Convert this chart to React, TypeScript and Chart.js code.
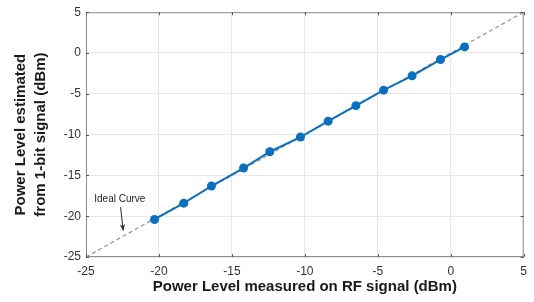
import React, { useEffect, useRef } from "react";
import { Chart, registerables } from "chart.js";
Chart.register(...registerables);

const measuredX = [-20.3, -18.3, -16.4, -14.2, -12.4, -10.3, -8.4, -6.5, -4.6, -2.65, -0.7, 0.95];
const measuredY = [-20.4, -18.4, -16.3, -14.1, -12.1, -10.3, -8.35, -6.45, -4.55, -2.8, -0.8, 0.75];
const idealX = [-25, 5];
const idealY = [-25, 5];
const tickMin = -25;
const tickMax = 5;
const tickStep = 5;
const annotationText = "Ideal Curve";
const annotationPos = { x: -22.68, y: -17.95 };
const arrowFrom = { x: -22.63, y: -18.9 };
const arrowTo = { x: -22.45, y: -21.75 };

const framePlugin = {
  id: "frame",
  afterDatasetsDraw(chart: any) {
    const { ctx, chartArea: a, scales } = chart;
    ctx.save();
    ctx.strokeStyle = "#8c8c8c";
    ctx.lineWidth = 1;
    ctx.strokeRect(a.left + 0.5, a.top + 0.5, a.right - a.left - 1, a.bottom - a.top - 1);
    // inward ticks
    ctx.strokeStyle = "#555";
    for (let v = tickMin; v <= tickMax; v += tickStep) {
      const px = Math.round(scales.x.getPixelForValue(v)) + 0.5;
      ctx.beginPath();
      ctx.moveTo(px, a.bottom); ctx.lineTo(px, a.bottom - 3);
      ctx.moveTo(px, a.top); ctx.lineTo(px, a.top + 3);
      ctx.stroke();
      const py = Math.round(scales.y.getPixelForValue(v)) + 0.5;
      ctx.beginPath();
      ctx.moveTo(a.left, py); ctx.lineTo(a.left + 3, py);
      ctx.moveTo(a.right, py); ctx.lineTo(a.right - 3, py);
      ctx.stroke();
    }
    // annotation
    const tx = scales.x.getPixelForValue(annotationPos.x);
    const ty = scales.y.getPixelForValue(annotationPos.y);
    ctx.fillStyle = "#262626";
    ctx.font = "10px 'Liberation Sans', Arial, sans-serif";
    ctx.textAlign = "center";
    ctx.textBaseline = "middle";
    ctx.fillText(annotationText, tx, ty);
    const x1 = scales.x.getPixelForValue(arrowFrom.x);
    const y1 = scales.y.getPixelForValue(arrowFrom.y);
    const x2 = scales.x.getPixelForValue(arrowTo.x);
    const y2 = scales.y.getPixelForValue(arrowTo.y);
    ctx.strokeStyle = "#262626";
    ctx.lineWidth = 1;
    ctx.beginPath();
    ctx.moveTo(x1, y1); ctx.lineTo(x2, y2);
    ctx.stroke();
    const ang = Math.atan2(y2 - y1, x2 - x1);
    const L = 7, W = 0.4;
    ctx.fillStyle = "#262626";
    ctx.beginPath();
    ctx.moveTo(x2, y2);
    ctx.lineTo(x2 - L * Math.cos(ang - W), y2 - L * Math.sin(ang - W));
    ctx.lineTo(x2 - L * 0.6 * Math.cos(ang), y2 - L * 0.6 * Math.sin(ang));
    ctx.lineTo(x2 - L * Math.cos(ang + W), y2 - L * Math.sin(ang + W));
    ctx.closePath();
    ctx.fill();
    ctx.restore();
  },
};

export default function App() {
  const ref = useRef<HTMLCanvasElement>(null);
  useEffect(() => {
    document.body.style.margin = "0";
    const chart = new Chart(ref.current!, {
      type: "scatter",
      data: {
        datasets: [
          {
            label: "Measured",
            data: measuredX.map((x, i) => ({ x, y: measuredY[i] })),
            showLine: true,
            borderColor: "#0b6fc0",
            backgroundColor: "#0b6fc0",
            borderWidth: 2,
            pointRadius: 4.5,
            pointBorderWidth: 0,
          },
          {
            label: "Ideal",
            data: idealX.map((x, i) => ({ x, y: idealY[i] })),
            showLine: true,
            borderColor: "#999999",
            borderWidth: 1.3,
            borderDash: [4, 3],
            pointRadius: 0,
          },
        ],
      },
      options: {
        animation: false,
        responsive: false,
        layout: { padding: { left: 0, top: 11, right: 8, bottom: 0 } },
        plugins: { legend: { display: false }, tooltip: { enabled: false } },
        scales: {
          x: {
            type: "linear",
            min: tickMin,
            max: tickMax,
            afterFit(scale: any) { scale.height = 45; },
            ticks: {
              stepSize: tickStep,
              padding: 7,
              color: "#333333",
              font: { family: "'Liberation Sans', Arial, sans-serif", size: 12 },
            },
            grid: { color: "#e8e8e8", drawTicks: false },
            border: { display: false },
            title: {
              display: true,
              text: "Power Level measured on RF signal (dBm)",
              color: "#1a1a1a",
              font: { family: "'Liberation Sans', Arial, sans-serif", size: 15, weight: "bold", lineHeight: 1.2 },
              padding: { top: 0, bottom: 6 },
            },
          },
          y: {
            type: "linear",
            min: tickMin,
            max: tickMax,
            afterFit(scale: any) { scale.width = 86; },
            ticks: {
              stepSize: tickStep,
              padding: 5,
              color: "#333333",
              font: { family: "'Liberation Sans', Arial, sans-serif", size: 12 },
            },
            grid: { color: "#e8e8e8", drawTicks: false },
            border: { display: false },
            title: {
              display: true,
              text: ["Power Level estimated", "from 1-bit signal (dBm)"],
              color: "#1a1a1a",
              font: { family: "'Liberation Sans', Arial, sans-serif", size: 15, weight: "bold", lineHeight: 1.333 },
              padding: { top: 11, bottom: 0 },
            },
          },
        },
      },
      plugins: [framePlugin],
    });
    return () => chart.destroy();
  }, []);
  return (
    <div style={{ position: "absolute", left: 0, top: 0, width: 534, height: 302, background: "#fff" }}>
      <canvas ref={ref} width={534} height={302} style={{ width: 534, height: 302 }} />
    </div>
  );
}
